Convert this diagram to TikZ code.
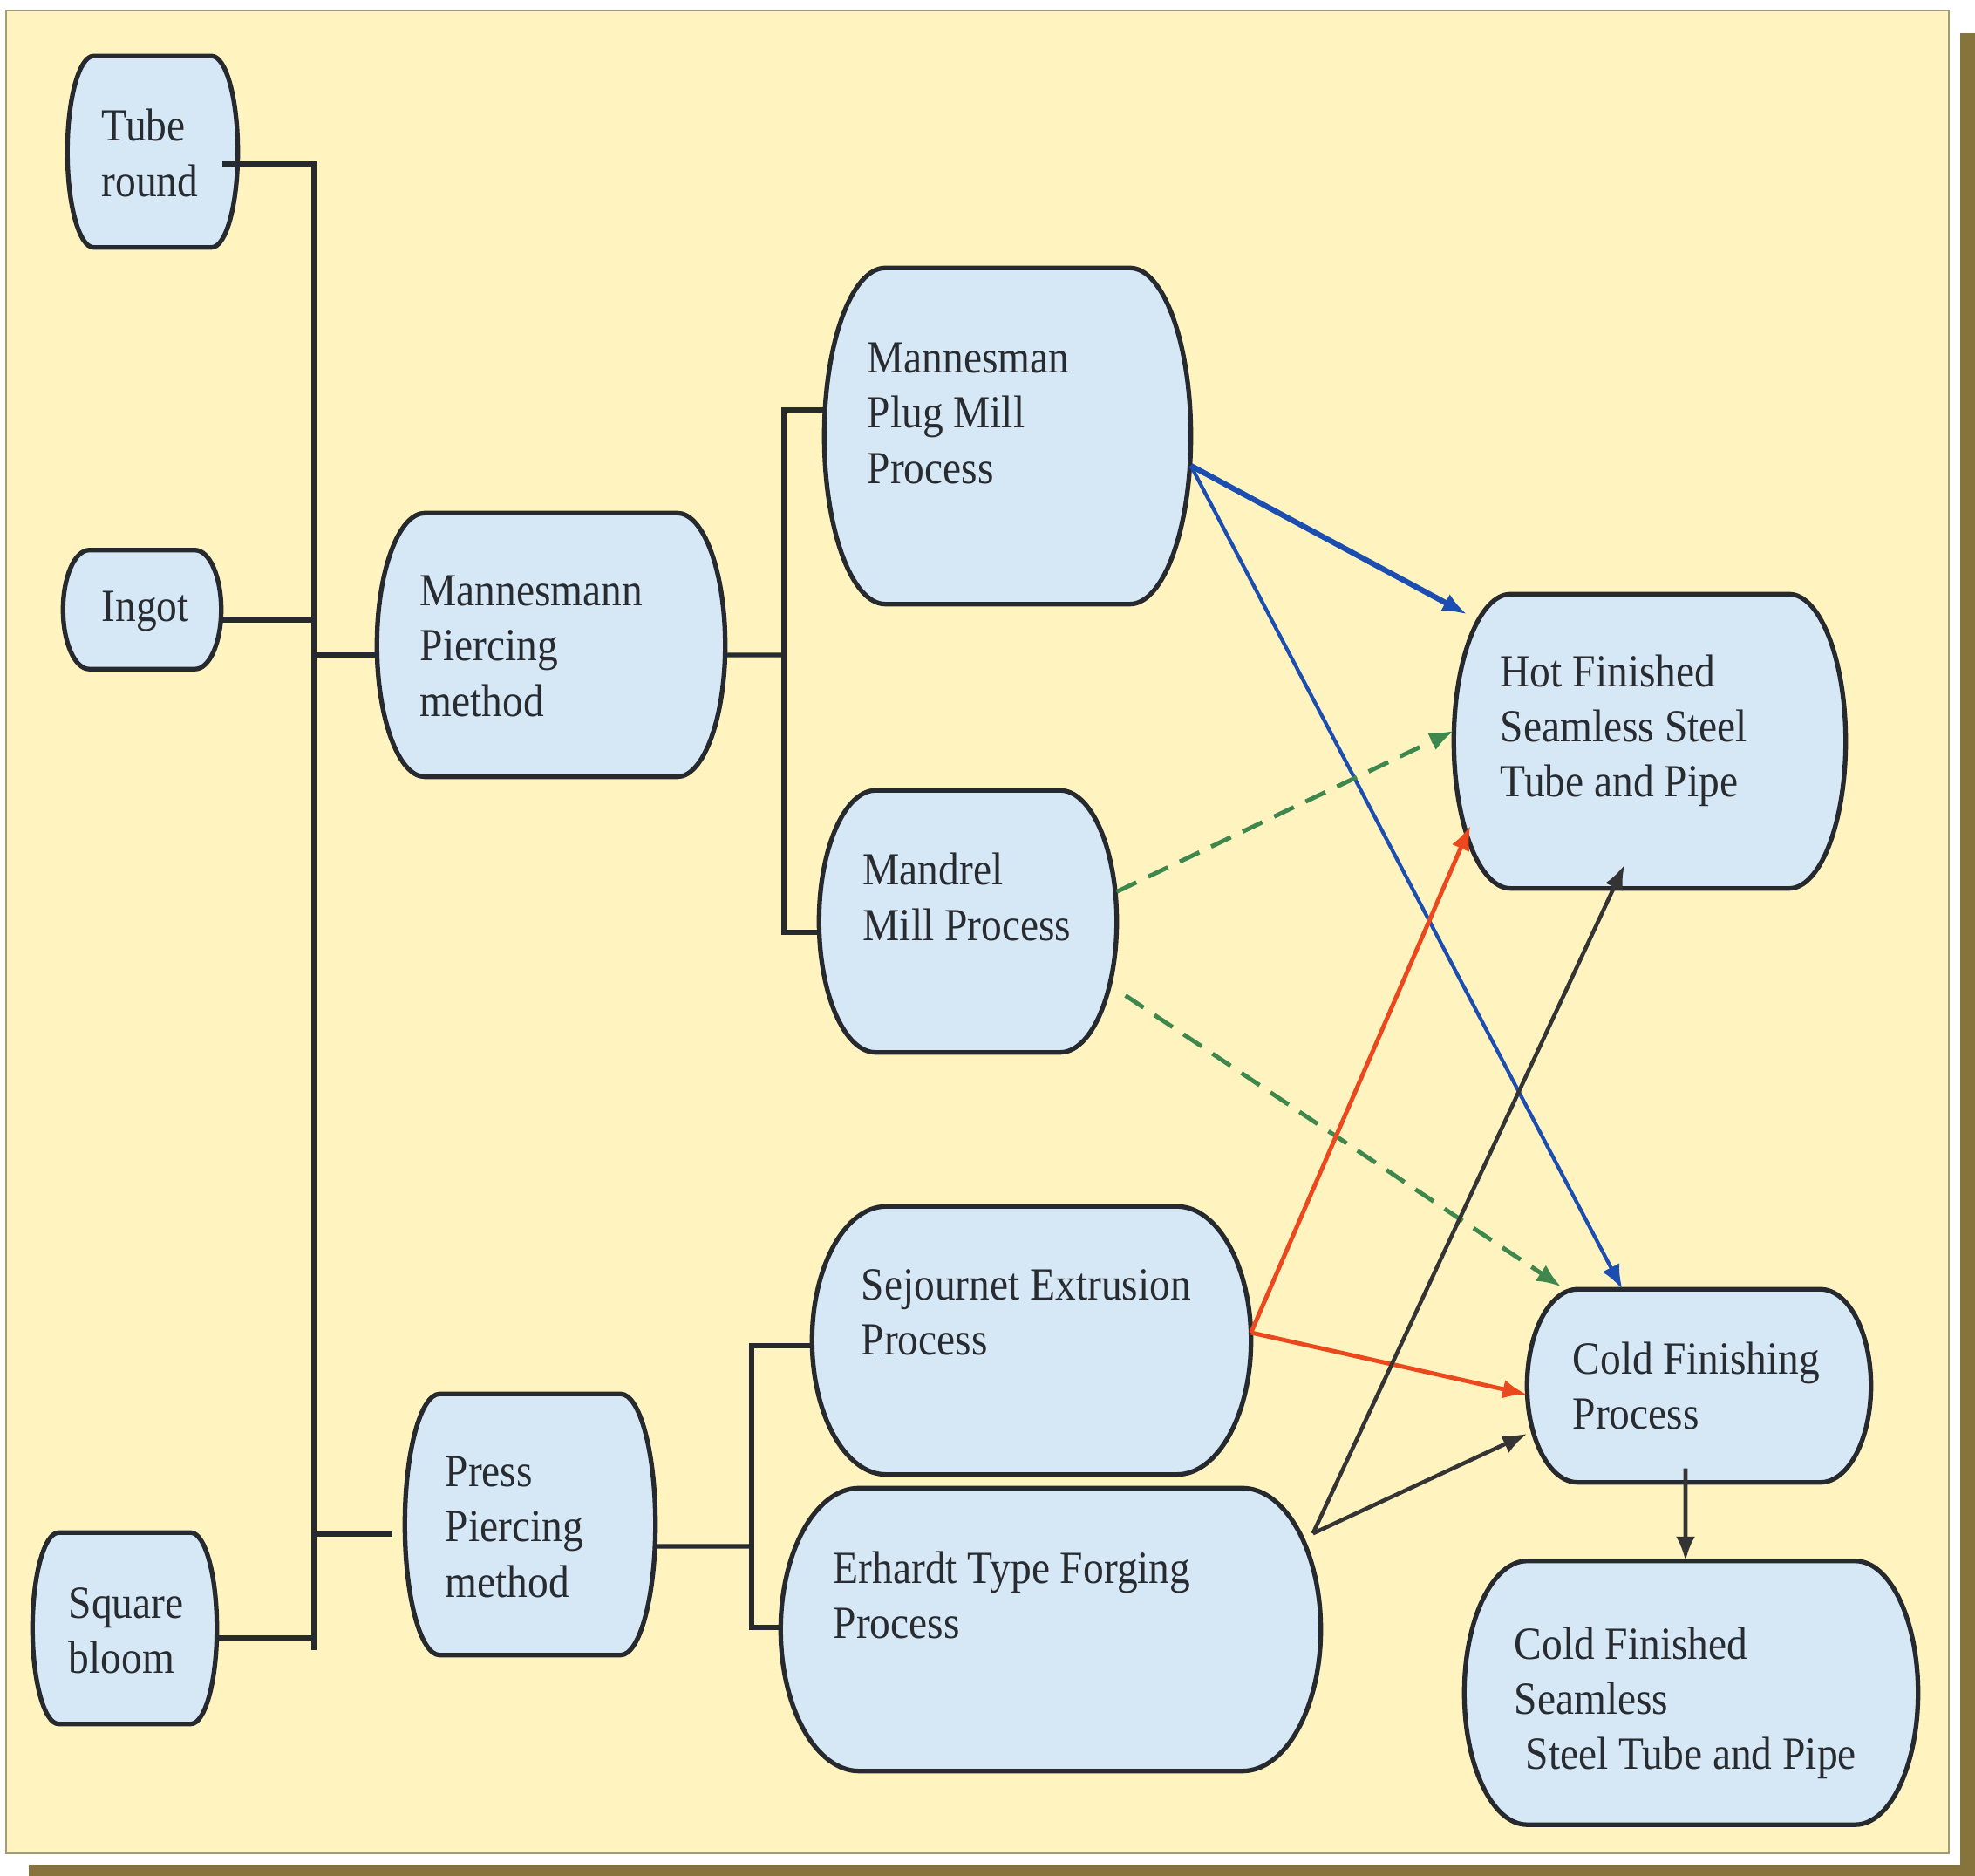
\documentclass[tikz,border=0pt]{standalone}
\usepackage{fontspec}
\setmainfont{Liberation Serif}[FakeStretch=0.9]
\usetikzlibrary{positioning, calc, arrows.meta}

\definecolor{paper}{RGB}{255,244,192}
\definecolor{paperedge}{RGB}{160,155,120}
\definecolor{shadowcol}{RGB}{135,115,60}
\definecolor{boxfill}{RGB}{214,232,246}
\definecolor{boxedge}{RGB}{38,42,46}
\definecolor{ink}{RGB}{40,43,48}
\definecolor{hotblue}{RGB}{28,78,178}
\definecolor{mandgreen}{RGB}{62,136,78}
\definecolor{sejred}{RGB}{236,72,30}
\definecolor{forgegrey}{RGB}{52,52,52}

% outline of a process box: straight top and bottom, bulging sides
\newcommand{\barrel}[2]{%
  \draw[boxline] ([xshift=#2]#1.north west) -- ([xshift=-#2]#1.north east)
    .. controls ([xshift=-0.448*#2]#1.north east) and ($(#1.north east)!0.448!(#1.east)$) .. (#1.east)
    .. controls ($(#1.south east)!0.448!(#1.east)$) and ([xshift=-0.448*#2]#1.south east) .. ([xshift=-#2]#1.south east)
    -- ([xshift=#2]#1.south west)
    .. controls ([xshift=0.448*#2]#1.south west) and ($(#1.south west)!0.448!(#1.west)$) .. (#1.west)
    .. controls ($(#1.north west)!0.448!(#1.west)$) and ([xshift=0.448*#2]#1.north west) .. ([xshift=#2]#1.north west)
    -- cycle;
}

\begin{document}
\begin{tikzpicture}[font=\fontsize{15}{18}\selectfont,
  boxshape/.style={rectangle, inner sep=0pt},
  boxline/.style={draw=boxedge, fill=boxfill, line width=1.5pt},
  txt/.style={align=left, inner sep=0pt, anchor=west, text=ink},
  conn/.style={draw=boxedge, line width=1.5pt},
  >={Latex[length=2.8mm,width=2.2mm]}]
\useasboundingbox (0,0) rectangle (22.65,21.51);

% page with drop shadow
\fill[white] (0,0) rectangle (22.65,21.51);
\fill[shadowcol] (0.33,0) rectangle (22.65,0.13);
\fill[shadowcol] (22.48,0) rectangle (22.65,21.13);
\draw[paperedge, fill=paper, line width=0.8pt] (0.07,0.26) rectangle (22.35,21.39);

% raw material
\node[boxshape, minimum width=1.94cm, minimum height=2.18cm] (tube) at (1.75,19.77) {};
\barrel{tube}{3mm}
\node[boxshape, minimum width=1.80cm, minimum height=1.35cm] (ingot) at (1.63,14.52) {};
\barrel{ingot}{3mm}
\node[boxshape, minimum width=2.10cm, minimum height=2.18cm] (bloom) at (1.43,2.84) {};
\barrel{bloom}{3mm}

% piercing
\node[boxshape, minimum width=3.98cm, minimum height=3.01cm] (mpierce) at (6.32,14.115) {};
\barrel{mpierce}{5.5mm}
\node[boxshape, minimum width=2.86cm, minimum height=2.98cm] (ppierce) at (6.08,4.03) {};
\barrel{ppierce}{4mm}

% mills
\node[boxshape, minimum width=4.19cm, minimum height=3.84cm] (plug) at (11.555,16.51) {};
\barrel{plug}{7mm}
\node[boxshape, minimum width=3.40cm, minimum height=2.99cm] (mandrel) at (11.10,10.945) {};
\barrel{mandrel}{6.5mm}
\node[boxshape, minimum width=5.02cm, minimum height=3.06cm] (sejour) at (11.83,6.14) {};
\barrel{sejour}{8.5mm}
\node[boxshape, minimum width=6.18cm, minimum height=3.23cm] (erhardt) at (12.05,2.825) {};
\barrel{erhardt}{9mm}

% products
\node[boxshape, minimum width=4.48cm, minimum height=3.36cm] (hot) at (18.92,13.01) {};
\barrel{hot}{6.5mm}
\node[boxshape, minimum width=3.93cm, minimum height=2.20cm] (coldproc) at (19.485,5.62) {};
\barrel{coldproc}{5.8mm}
\node[boxshape, minimum width=5.19cm, minimum height=3.01cm] (coldfin) at (19.395,2.10) {};
\barrel{coldfin}{7.2mm}

% bus lines
\coordinate (trunktop) at (3.60,19.63);
\coordinate (trunkbot) at (3.60,2.59);
\coordinate (mbus) at (8.99,14.00);
\coordinate (pbus) at (8.62,3.78);

\draw[conn] ([xshift=-1.8mm,yshift=-1.4mm]tube.east) -- (trunktop) -- (trunkbot);
\draw[conn] ([yshift=-1.2mm]ingot.east) -- ([yshift=-1.2mm]ingot.east -| trunktop);
\draw[conn] ([yshift=-1.1mm]bloom.east) -- ([yshift=-1.1mm]bloom.east -| trunktop);
\draw[conn] ([yshift=-1.15mm]mpierce.west -| trunktop) -- ([yshift=-1.15mm]mpierce.west);
\draw[conn] ([yshift=-1.1mm]ppierce.west -| trunktop) -- ([xshift=-1.4mm,yshift=-1.1mm]ppierce.west);

\draw[conn] ([yshift=-1.15mm]mpierce.east) -- (mbus);
\draw[conn] ([yshift=3mm]plug.west) -| (mbus) |- ([yshift=-1.25mm]mandrel.west);
\draw[conn] ([yshift=-2.5mm]ppierce.east) -- (pbus);
\draw[conn] ([yshift=-0.6mm]sejour.west) -| (pbus) |- ([yshift=0.25mm]erhardt.west);

% routes to the finished tube
\draw[->, hotblue, line width=1.8pt] ([yshift=-3.4mm]plug.east) -- ([xshift=1.5mm,yshift=-2.3mm]hot.north west);
\draw[->, hotblue, line width=1.2pt] ([yshift=-3.4mm]plug.east) -- ([xshift=-8.8mm]coldproc.north);
\draw[->, mandgreen, line width=1.4pt, dash pattern=on 2.5mm off 1.5mm] ([yshift=3.4mm]mandrel.east) -- ([yshift=1.2mm]hot.west);
\draw[->, mandgreen, line width=1.4pt, dash pattern=on 2.5mm off 1.5mm] ([xshift=1mm,yshift=-8.5mm]mandrel.east) -- ([xshift=3.9mm,yshift=0.3mm]coldproc.north west);
\draw[->, sejred, line width=1.4pt] ([yshift=0.9mm]sejour.east) -- ([xshift=1.9mm,yshift=7.2mm]hot.south west);
\draw[->, sejred, line width=1.4pt] ([yshift=0.9mm]sejour.east) -- ([yshift=-1mm]coldproc.west);
\draw[->, forgegrey, line width=1.3pt] ([xshift=-0.9mm,yshift=-5.2mm]erhardt.north east) -- ([xshift=-2.9mm,yshift=2.7mm]hot.south);
\draw[->, forgegrey, line width=1.3pt] ([xshift=-0.9mm,yshift=-5.2mm]erhardt.north east) -- ([yshift=-5.5mm]coldproc.west);
\draw[->, forgegrey, line width=1.3pt] ([xshift=-1.55mm,yshift=1.6mm]coldproc.south) -- ([xshift=-0.65mm]coldfin.north);

% labels
\node[txt] (tube-t) at (1.16,19.755) {Tube\\round};
\node[txt] (ingot-t) at (1.16,14.50) {Ingot};
\node[txt] (bloom-t) at (0.78,2.81) {Square\\bloom};
\node[txt] (mpierce-t) at (4.81,14.10) {Mannesmann\\Piercing\\method};
\node[txt] (ppierce-t) at (5.10,4.00) {Press\\Piercing\\method};
\node[txt] (plug-t) at (9.94,16.77) {Mannesman\\Plug Mill\\Process};
\node[txt] (mandrel-t) at (9.89,11.225) {Mandrel\\Mill Process};
\node[txt] (sejour-t) at (9.87,6.46) {Sejournet Extrusion\\Process};
\node[txt] (erhardt-t) at (9.55,3.22) {Erhardt Type Forging\\Process};
\node[txt] (hot-t) at (17.20,13.13) {Hot Finished\\Seamless Steel\\Tube and Pipe};
\node[txt] (coldproc-t) at (18.03,5.62) {Cold Finishing\\Process};
\node[txt] (coldfin-t) at (17.36,1.98) {Cold Finished\\Seamless\\\hspace*{1.3mm}Steel Tube and Pipe};
\end{tikzpicture}
\end{document}
